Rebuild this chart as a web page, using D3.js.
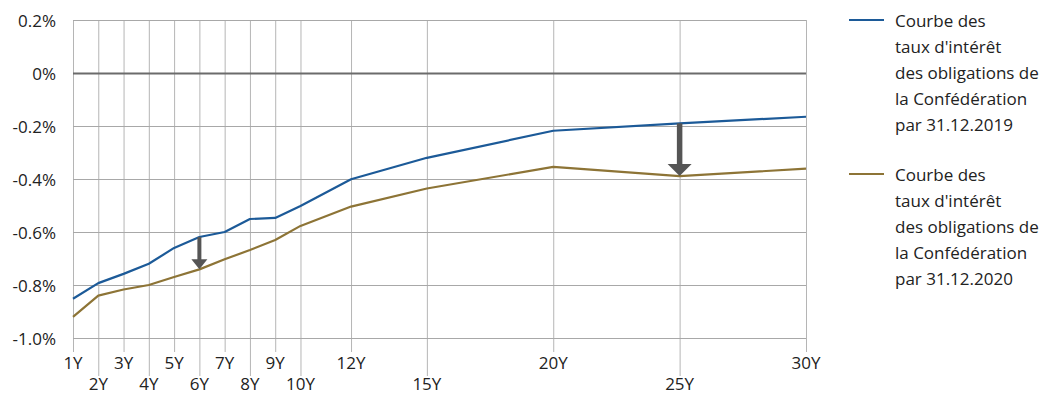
<!DOCTYPE html>
<html>
<head>
<meta charset="utf-8">
<script src="https://cdn.jsdelivr.net/npm/d3@7"></script>
<style>
  html, body { margin: 0; padding: 0; background: #fff; }
  svg { display: block; font-family: "Open Sans", Lato, sans-serif; }
</style>
</head>
<body>
<svg id="chart" width="1045" height="394"></svg>
<script>
// Maturities (years) and yields (%) of the Confederation bond curves
const maturities = [1, 2, 3, 4, 5, 6, 7, 8, 9, 10, 12, 15, 20, 25, 30];
const yield2019 = [-0.852, -0.793, -0.758, -0.72, -0.66, -0.619, -0.60, -0.551, -0.547, -0.502, -0.401, -0.32, -0.218, -0.19, -0.165];
const yield2020 = [-0.92, -0.84, -0.817, -0.80, -0.77, -0.741, -0.703, -0.668, -0.63, -0.577, -0.504, -0.436, -0.354, -0.389, -0.361];
const xTickYears = [1, 2, 3, 4, 5, 6, 7, 8, 9, 10, 12, 15, 20, 25, 30];
const yTickValues = [0.2, 0, -0.2, -0.4, -0.6, -0.8, -1.0];
const yTickLabels = ["0.2%", "0%", "-0.2%", "-0.4%", "-0.6%", "-0.8%", "-1.0%"];
const arrowYears = [6, 25];
const seriesNames = [
  ["Courbe des", "taux d'intérêt", "des obligations de", "la Confédération", "par 31.12.2019"],
  ["Courbe des", "taux d'intérêt", "des obligations de", "la Confédération", "par 31.12.2020"]
];
const seriesColors = ["#1c5a98", "#8d7436"];

const svg = d3.select("#chart");
const x = d3.scaleLinear().domain([1, 30]).range([73, 806]);
const y = d3.scaleLinear().domain([-1.0, 0.2]).range([338, 20]);
const fontSize = 17;

// Vertical grid lines at every maturity, running into the tick area;
// labels alternate between two rows
const xg = svg.append("g");
xTickYears.forEach((t, i) => {
  const lower = i % 2 === 1;
  xg.append("line")
    .attr("x1", x(t) + 0.5).attr("x2", x(t) + 0.5)
    .attr("y1", y(0.2)).attr("y2", lower ? 376 : 352)
    .attr("stroke", "#b5b5b5").attr("stroke-width", 1);
  xg.append("text")
    .attr("x", x(t)).attr("y", lower ? 390 : 369)
    .attr("text-anchor", "middle")
    .attr("font-size", fontSize).attr("fill", "#222")
    .text(t + "Y");
});

// Horizontal grid lines and percentage labels
const yg = svg.append("g");
yTickValues.forEach((v, i) => {
  const isZero = v === 0;
  yg.append("line")
    .attr("x1", x(1)).attr("x2", x(30))
    .attr("y1", Math.round(y(v)) + 0.5).attr("y2", Math.round(y(v)) + 0.5)
    .attr("stroke", isZero ? "#6b6b6b" : "#a8a8a8")
    .attr("stroke-width", isZero ? 2 : 1);
  yg.append("text")
    .attr("x", 56).attr("y", y(v))
    .attr("text-anchor", "end").attr("dominant-baseline", "central")
    .attr("font-size", fontSize).attr("fill", "#222")
    .text(yTickLabels[i]);
});

// Curves
const line = d3.line().x(d => x(d[0])).y(d => y(d[1]));
[yield2019, yield2020].forEach((vals, k) => {
  svg.append("path")
    .datum(maturities.map((m, i) => [m, vals[i]]))
    .attr("d", line)
    .attr("fill", "none")
    .attr("stroke", seriesColors[k])
    .attr("stroke-width", 2.2)
    .attr("stroke-linejoin", "round");
});

// Arrows showing the shift between the two curves
const arrowStyle = [
  { shaft: 4, headW: 16, headH: 10 },
  { shaft: 5.5, headW: 24, headH: 12 }
];
arrowYears.forEach((yr, k) => {
  const i = maturities.indexOf(yr);
  const cx = x(yr);
  const y0 = y(yield2019[i]);
  const y1 = y(yield2020[i]);
  const s = arrowStyle[k];
  svg.append("rect")
    .attr("x", cx - s.shaft / 2).attr("y", y0)
    .attr("width", s.shaft).attr("height", y1 - s.headH - y0 + 1)
    .attr("fill", "#555");
  svg.append("path")
    .attr("d", `M${cx - s.headW / 2},${y1 - s.headH} L${cx + s.headW / 2},${y1 - s.headH} L${cx},${y1} Z`)
    .attr("fill", "#555");
});

// Legend
const lg = svg.append("g");
seriesNames.forEach((lines, k) => {
  const top = 20 + k * 154;
  lg.append("line")
    .attr("x1", 849).attr("x2", 884)
    .attr("y1", top).attr("y2", top)
    .attr("stroke", seriesColors[k]).attr("stroke-width", 2);
  lines.forEach((t, j) => {
    lg.append("text")
      .attr("x", 895).attr("y", top + j * 26)
      .attr("dominant-baseline", "central")
      .attr("font-size", fontSize).attr("fill", "#222")
      .text(t);
  });
});
</script>
</body>
</html>
